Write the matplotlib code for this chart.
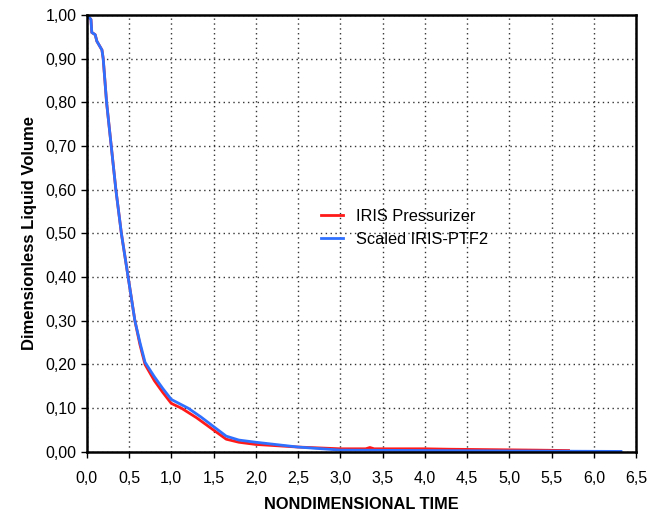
import matplotlib.pyplot as plt
from matplotlib.ticker import MultipleLocator, FuncFormatter

plt.rcParams['font.family'] = ['Liberation Sans', 'DejaVu Sans']

# IRIS Pressurizer (red)
t_red = [0, 0.05, 0.06, 0.10, 0.12, 0.15, 0.18, 0.195, 0.235, 0.29, 0.345, 0.41, 0.49,
         0.57, 0.63, 0.69, 0.80, 0.90, 1.00, 1.12, 1.30, 1.50, 1.65, 1.80, 2.00,
         2.50, 3.00, 3.30, 3.35, 3.40, 4.00, 4.30, 4.80, 5.30, 5.70]
v_red = [1.0, 0.99, 0.96, 0.955, 0.94, 0.93, 0.92, 0.90, 0.80, 0.70, 0.60, 0.50, 0.40,
         0.30, 0.245, 0.20, 0.163, 0.136, 0.111, 0.100, 0.078, 0.050, 0.029, 0.022, 0.017,
         0.011, 0.007, 0.007, 0.010, 0.007, 0.007, 0.006, 0.005, 0.004, 0.003]

# Scaled IRIS-PTF2 (blue)
t_blue = [0, 0.05, 0.06, 0.10, 0.12, 0.15, 0.18, 0.195, 0.235, 0.29, 0.345, 0.41, 0.49,
          0.57, 0.63, 0.69, 0.80, 0.90, 1.00, 1.20, 1.35, 1.50, 1.65, 1.80, 2.00,
          2.50, 3.00, 4.00, 5.00, 6.32]
v_blue = [1.0, 0.99, 0.96, 0.955, 0.94, 0.93, 0.92, 0.90, 0.80, 0.70, 0.60, 0.50, 0.40,
          0.30, 0.25, 0.205, 0.172, 0.145, 0.120, 0.100, 0.080, 0.058, 0.036, 0.027, 0.022,
          0.011, 0.004, 0.003, 0.002, 0.001]

fig = plt.figure(figsize=(6.62, 5.17), dpi=100)
ax = fig.add_axes([0.131, 0.126, 0.83, 0.845])

ax.plot(t_red, v_red, color='#ff1a1a', lw=2, label='IRIS Pressurizer')
ax.plot(t_blue, v_blue, color='#3070ff', lw=2, label='Scaled IRIS-PTF2')

ax.set_xlim(0, 6.5)
ax.set_ylim(0, 1.0)
ax.xaxis.set_major_locator(MultipleLocator(0.5))
ax.yaxis.set_major_locator(MultipleLocator(0.1))
ax.xaxis.set_major_formatter(FuncFormatter(lambda v, p: f'{v:.1f}'.replace('.', ',')))
ax.yaxis.set_major_formatter(FuncFormatter(lambda v, p: f'{v:.2f}'.replace('.', ',')))
ax.tick_params(labelsize=11.5, length=4, width=1, direction='out')
ax.tick_params(axis='x', pad=10)
ax.grid(True, color='#333333', linestyle=(0, (1, 2.5)), lw=1)

for s in ax.spines.values():
    s.set_linewidth(1.8)

ax.set_xlabel('NONDIMENSIONAL TIME', fontsize=11.8, fontweight='bold', labelpad=8)
ax.set_ylabel('Dimensionless Liquid Volume', fontsize=12, fontweight='bold', labelpad=6)

ax.legend(loc='upper left', bbox_to_anchor=(0.40, 0.59), frameon=False,
          fontsize=11.8, handlelength=1.3, labelspacing=0.5)

fig.savefig('out.png', dpi=100)
